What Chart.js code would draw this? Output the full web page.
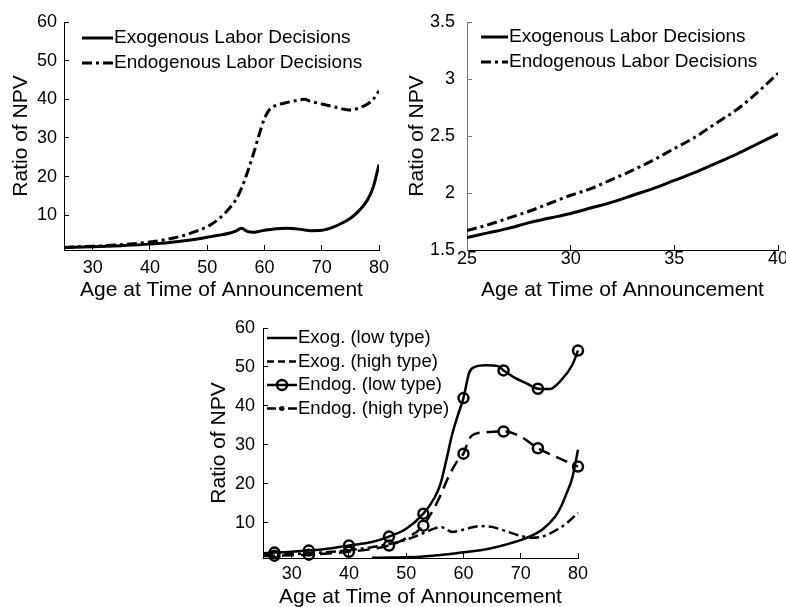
<!DOCTYPE html>
<html>
<head>
<meta charset="utf-8">
<script src="https://cdn.jsdelivr.net/npm/chart.js@4/dist/chart.umd.min.js"></script>
<style>
  html, body { margin: 0; padding: 0; background: #fff; overflow: hidden; }
  canvas { position: absolute; left: 0; top: 0; }
</style>
</head>
<body>
<canvas id="npvAll" width="786" height="607"></canvas>
<canvas id="npvYoung" width="786" height="607"></canvas>
<canvas id="npvTypes" width="786" height="607"></canvas>
<script>
// top left: all ages
const agesAll = [25, 30, 35, 40, 45, 48, 50, 52, 54, 55, 56, 57, 58, 59, 60, 61, 62, 64, 66, 67, 68, 70, 72, 74, 75, 76, 78, 79, 80];
const exogAll = [1.62, 1.82, 2.11, 2.52, 3.2, 3.8, 4.3, 4.8, 5.4, 5.9, 6.6, 5.8, 5.6, 5.8, 6.1, 6.3, 6.5, 6.6, 6.4, 6.2, 6.0, 6.1, 6.9, 8.3, 9.2, 10.4, 14.0, 17.3, 23.1];
const endogAll = [1.67, 1.98, 2.39, 3.05, 4.4, 5.8, 7.0, 9.0, 12.0, 14.0, 17.0, 21.0, 25.5, 30.5, 35.0, 37.6, 38.4, 39.2, 39.8, 40.0, 39.5, 38.8, 38.1, 37.4, 37.2, 37.5, 38.8, 40.0, 42.2];

// top right: young ages zoom
const agesYoung = [25, 26, 27, 28, 29, 30, 31, 32, 33, 34, 35, 36, 37, 38, 39, 40];
const exogYoung = [1.61, 1.65, 1.69, 1.74, 1.78, 1.82, 1.87, 1.92, 1.98, 2.04, 2.11, 2.18, 2.26, 2.34, 2.43, 2.52];
const endogYoung = [1.67, 1.72, 1.78, 1.84, 1.91, 1.98, 2.04, 2.12, 2.20, 2.29, 2.39, 2.49, 2.61, 2.73, 2.88, 3.05];

// bottom: by type
const agesExogLow = [44, 47, 50, 53, 56, 58, 60, 63, 66, 68, 70, 72, 74, 76, 77, 78, 79, 80];
const exogLow = [0.95, 1.0, 1.1, 1.3, 1.7, 2.0, 2.4, 2.9, 3.8, 4.6, 5.5, 6.7, 8.5, 11.5, 14.0, 17.5, 21.5, 28.7];
const agesExogHigh = [25, 30, 35, 40, 45, 50, 53, 55, 56, 57, 58, 59, 61, 63, 65, 67, 70, 72, 74, 76, 78, 80];
const exogHigh = [1.6, 1.9, 2.3, 2.9, 3.9, 5.6, 7.3, 8.5, 8.9, 8.3, 7.6, 7.8, 8.6, 9.1, 8.9, 8.0, 6.6, 6.1, 6.5, 7.9, 9.8, 12.5];
const agesEndogLow = [25, 27, 30, 33, 37, 40, 44, 47, 50, 53, 55, 56, 57, 58, 59, 60, 61, 62, 64, 66, 67, 69, 71, 73, 75, 77, 79, 80];
const endogLow = [2.1, 2.3, 2.5, 2.8, 3.4, 4.1, 5.0, 6.4, 8.4, 12.3, 16.5, 20, 26, 32.5, 37.5, 42.0, 48.5, 50.0, 50.4, 50.2, 49.1, 47.2, 45.8, 44.4, 44.3, 46.5, 50.5, 54.2];
const agesEndogHigh = [25, 27, 30, 33, 37, 40, 44, 47, 50, 53, 54, 55, 56, 57, 58, 59, 60, 61, 62, 64, 67, 70, 73, 76, 78, 80];
const endogHigh = [1.4, 1.5, 1.6, 1.75, 2.1, 2.5, 3.2, 4.1, 6.0, 9.2, 11.5, 14, 17, 20.5, 23.5, 26, 27.7, 31.5, 32.8, 33.2, 33.4, 32.1, 29.1, 27.0, 25.7, 24.4];
const markerAges = [27, 33, 40, 47, 53, 60, 67, 73, 80];

// tick labels
const xTicksWide = [30, 40, 50, 60, 70, 80];
const yTicksWide = [10, 20, 30, 40, 50, 60];
const xTicksYoung = [25, 30, 35, 40];
const yTicksYoung = [1.5, 2, 2.5, 3, 3.5];

Chart.defaults.font.family = '"Liberation Sans", Arial, Helvetica, sans-serif';
Chart.defaults.color = '#000';

const pts = (xs, ys) => xs.map((x, i) => ({ x: x, y: ys[i] }));

// legend drawn as short line samples like the original
const lineLegend = {
  id: 'lineLegend',
  afterDraw(chart, args, o) {
    const ctx = chart.ctx;
    ctx.save();
    ctx.font = o.font + 'px "Liberation Sans", Arial, sans-serif';
    ctx.textBaseline = 'middle';
    ctx.fillStyle = '#000';
    ctx.strokeStyle = '#000';
    chart.data.datasets.forEach((ds, i) => {
      const y = o.y + i * o.rowH;
      ctx.lineWidth = ds.borderWidth;
      ctx.setLineDash(ds.legendDash || ds.borderDash || []);
      ctx.beginPath();
      ctx.moveTo(o.x, y);
      ctx.lineTo(o.x + o.len, y);
      ctx.stroke();
      ctx.setLineDash([]);
      if (ds.legendMarker === 'circle') {
        ctx.beginPath();
        ctx.arc(o.x + o.len / 2, y, 5, 0, 2 * Math.PI);
        ctx.stroke();
      } else if (ds.legendMarker === 'dot') {
        ctx.beginPath();
        ctx.arc(o.x + o.len / 2, y, 2.5, 0, 2 * Math.PI);
        ctx.fill();
      }
      ctx.fillText(ds.label, o.x + o.len + 1, y);
    });
    ctx.restore();
  }
};

function scales(c) {
  return {
    x: {
      type: 'linear', min: c.xMin, max: c.xMax,
      afterBuildTicks: s => { s.ticks = c.xTicks.map(v => ({ value: v })); },
      afterFit: s => { s.height = c.xHeight; s.paddingLeft = 0; s.paddingRight = 0; },
      grid: { drawOnChartArea: false, tickLength: -5, color: '#000' },
      border: { color: '#000', width: 1 },
      ticks: { font: { size: 18 }, padding: c.xPad, maxRotation: 0, autoSkip: false },
      title: { display: true, text: 'Age at Time of Announcement', font: { size: 21 }, padding: { top: 0, bottom: c.xTitlePad } }
    },
    y: {
      type: 'linear', min: c.yMin, max: c.yMax,
      afterBuildTicks: s => { s.ticks = c.yTicks.map(v => ({ value: v })); },
      afterFit: s => { s.width = 64; s.paddingTop = 0; s.paddingBottom = 0; },
      grid: { drawOnChartArea: false, tickLength: -5, color: c.yColor },
      border: { color: c.yColor, width: 1 },
      ticks: { font: { size: 18 }, padding: c.yPad, autoSkip: false, callback: v => String(v) },
      title: { display: true, text: 'Ratio of NPV', font: { size: 21 }, padding: { top: c.yTitlePad, bottom: 0 } }
    }
  };
}

function baseOptions(c) {
  return {
    responsive: false,
    animation: false,
    devicePixelRatio: 1,
    layout: { padding: c.padding },
    elements: { point: { radius: 0, hoverRadius: 0 }, line: { cubicInterpolationMode: 'monotone' } },
    plugins: { legend: { display: false }, tooltip: { enabled: false }, lineLegend: c.legend },
    scales: scales(c)
  };
}

new Chart(document.getElementById('npvAll'), {
  type: 'line',
  data: {
    datasets: [
      { label: 'Exogenous Labor Decisions', data: pts(agesAll, exogAll), borderColor: '#000', borderWidth: 3 },
      { label: 'Endogenous Labor Decisions', data: pts(agesAll, endogAll), borderColor: '#000', borderWidth: 3, borderDash: [10, 4, 3, 4] }
    ]
  },
  options: baseOptions({
    padding: { left: 0, top: 22, right: 407, bottom: 297 },
    xMin: 25, xMax: 80, xTicks: xTicksWide, xHeight: 60, xPad: 12, xTitlePad: 7,
    yMin: 1, yMax: 60, yTicks: yTicksWide, yPad: 12, yTitlePad: 9, yColor: '#000',
    legend: { x: 82, y: 38, len: 31, rowH: 25, font: 19 }
  }),
  plugins: [lineLegend]
});

new Chart(document.getElementById('npvYoung'), {
  type: 'line',
  data: {
    datasets: [
      { label: 'Exogenous Labor Decisions', data: pts(agesYoung, exogYoung), borderColor: '#000', borderWidth: 3 },
      { label: 'Endogenous Labor Decisions', data: pts(agesYoung, endogYoung), borderColor: '#000', borderWidth: 3, borderDash: [10, 4, 3, 4] }
    ]
  },
  options: baseOptions({
    padding: { left: 403, top: 22, right: 8, bottom: 297 },
    xMin: 25, xMax: 40, xTicks: xTicksYoung, xHeight: 60, xPad: 3, xTitlePad: 7,
    yMin: 1.5, yMax: 3.5, yTicks: yTicksYoung, yPad: 17, yTitlePad: 2, yColor: '#777',
    legend: { x: 481, y: 37, len: 27, rowH: 25, font: 19 }
  }),
  plugins: [lineLegend]
});

const markerRadius = ctx => (ctx.raw && markerAges.includes(ctx.raw.x)) ? 5 : 0;

new Chart(document.getElementById('npvTypes'), {
  type: 'line',
  data: {
    datasets: [
      { label: 'Exog. (low type)', data: pts(agesExogLow, exogLow), borderColor: '#000', borderWidth: 2.5, clip: false },
      { label: 'Exog. (high type)', data: pts(agesExogHigh, exogHigh), borderColor: '#000', borderWidth: 2.5, borderDash: [10, 4, 3, 4], legendDash: [7, 4], clip: false },
      { label: 'Endog. (low type)', data: pts(agesEndogLow, endogLow), borderColor: '#000', borderWidth: 2.5, legendMarker: 'circle',
        pointRadius: markerRadius, pointBorderWidth: 2.5, pointBorderColor: '#000', pointBackgroundColor: 'rgba(0,0,0,0)', clip: false },
      { label: 'Endog. (high type)', data: pts(agesEndogHigh, endogHigh), borderColor: '#000', borderWidth: 2.5, borderDash: [12, 7], legendDash: [9, 3, 3, 6], legendMarker: 'dot',
        pointRadius: markerRadius, pointBorderWidth: 2.5, pointBorderColor: '#000', pointBackgroundColor: 'rgba(0,0,0,0)', clip: false }
    ]
  },
  options: baseOptions({
    padding: { left: 199, top: 328, right: 208, bottom: 0 },
    xMin: 25, xMax: 80, xTicks: xTicksWide, xHeight: 49, xPad: 10, xTitlePad: -3,
    yMin: 0.9, yMax: 60, yTicks: yTicksWide, yPad: 13, yTitlePad: 8, yColor: '#000',
    legend: { x: 267, y: 338, len: 30, rowH: 23.5, font: 18.5 }
  }),
  plugins: [lineLegend]
});
</script>
</body>
</html>
